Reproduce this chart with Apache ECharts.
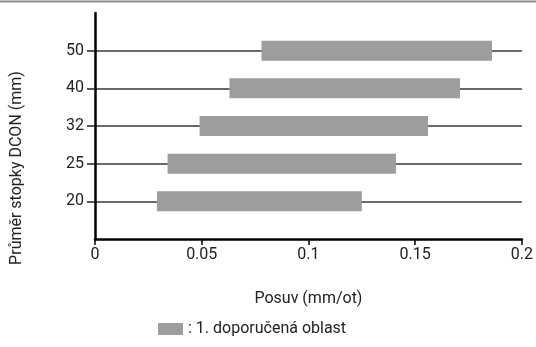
<!DOCTYPE html>
<html>
<head>
<meta charset="utf-8">
<script src="https://cdn.jsdelivr.net/npm/echarts@6/dist/echarts.min.js"></script>
<style>html,body{margin:0;padding:0;background:#fff}#c{width:536px;height:347px}</style>
</head>
<body>
<div id="c"></div>
<script>
const categories = ['', '20', '25', '32', '40', '50', ''];
const rangeStart = [null, 0.029, 0.034, 0.049, 0.063, 0.078, null];
const rangeEnd = [null, 0.125, 0.141, 0.156, 0.171, 0.186, null];
const xTicks = [0, 0.05, 0.1, 0.15, 0.2];
const seriesName = ': 1. doporučená oblast';
const xName = 'Posuv (mm/ot)';
const yName = 'Průměr stopky DCON (mm)';

const rangeLength = rangeEnd.map((e, i) => e == null ? null : +(e - rangeStart[i]).toFixed(4));
const inner = (i) => i >= 1 && i <= categories.length - 2;
const FONT = 'Roboto';
const FS = 16;
const TXT = '#222';

const chart = echarts.init(document.getElementById('c'), null, {renderer: 'canvas'});
chart.setOption({
  animation: false,
  textStyle: {fontFamily: FONT},
  grid: {left: 95, right: 13, top: 13, bottom: 108, containLabel: false},
  graphic: [
    {type: 'line', shape: {x1: 0, y1: 1.5, x2: 536, y2: 1.5}, style: {stroke: '#8c8c8c', lineWidth: 2}},
    {type: 'text', x: 17, y: 168, rotation: Math.PI / 2,
     style: {text: yName, fontFamily: FONT, fontSize: FS, fill: TXT, align: 'center', verticalAlign: 'middle'}}
  ],
  legend: {
    left: 153, top: 316, itemWidth: 25, itemHeight: 12, icon: 'rect', itemGap: 6,
    data: [seriesName],
    textStyle: {fontFamily: FONT, fontSize: FS, color: TXT}
  },
  xAxis: {
    type: 'value', min: xTicks[0], max: xTicks[xTicks.length - 1], interval: 0.05,
    name: xName, nameLocation: 'middle', nameGap: 52,
    nameTextStyle: {fontFamily: FONT, fontSize: FS, color: TXT},
    axisLine: {show: true, lineStyle: {color: '#000', width: 2.5}},
    axisTick: {show: true, length: 6, lineStyle: {color: '#000', width: 1.5}},
    axisLabel: {fontFamily: FONT, fontSize: FS, color: TXT, margin: 8},
    splitLine: {show: false}
  },
  yAxis: {
    type: 'category', data: categories, boundaryGap: false,
    axisLine: {show: true, lineStyle: {color: '#000', width: 2.5}},
    axisTick: {show: true, length: 8, interval: (i) => inner(i), lineStyle: {color: '#222', width: 1.5}},
    axisLabel: {fontFamily: FONT, fontSize: FS, color: TXT, margin: 11, interval: (i) => inner(i)},
    splitLine: {show: true, interval: (i) => inner(i), lineStyle: {color: '#3a3a3a', width: 1.5}}
  },
  series: [
    {type: 'bar', name: 'base', stack: 'r', data: rangeStart, barWidth: 20,
     itemStyle: {color: 'transparent'}, silent: true},
    {type: 'bar', name: seriesName, stack: 'r', data: rangeLength, barWidth: 20,
     itemStyle: {color: '#9d9d9c'}}
  ]
});
</script>
</body>
</html>
